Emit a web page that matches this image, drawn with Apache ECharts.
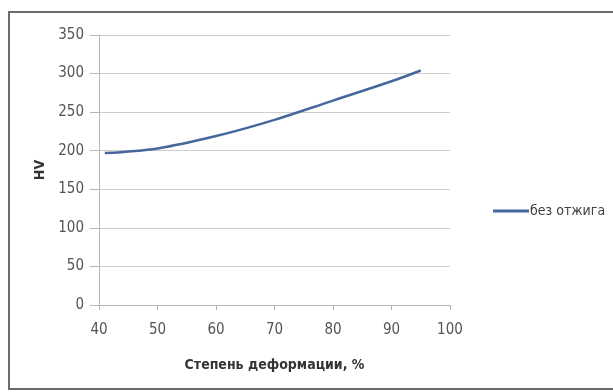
<!DOCTYPE html>
<html>
<head>
<meta charset="utf-8">
<script src="https://cdn.jsdelivr.net/npm/echarts@6/dist/echarts.min.js"></script>
<style>
  html, body { margin: 0; padding: 0; background: #fff; }
  #chart { width: 613px; height: 392px; }
</style>
</head>
<body>
<div id="chart"></div>
<script>
// Hardness (HV) versus degree of deformation, no annealing
const deformation = [41, 50, 60, 70, 80, 90, 95];
const hardness = [197, 203, 219, 240, 265, 290, 304];
const seriesName = 'без отжига';
const xTitle = 'Степень деформации, %';
const yTitle = 'HV';

const font = '"Liberation Sans Narrow", "DejaVu Sans Condensed", sans-serif';
const chart = echarts.init(document.getElementById('chart'));

chart.setOption({
  backgroundColor: '#fff',
  animation: false,
  graphic: [{
    type: 'rect',
    shape: { x: 9, y: 12, width: 610, height: 377 },
    style: { fill: 'none', stroke: '#6b6b6b', lineWidth: 2 },
    silent: true
  }],
  grid: { left: 99, right: 163, top: 35, bottom: 87 },
  legend: {
    data: [seriesName],
    left: 488, top: 199,
    itemWidth: 36, itemHeight: 3, itemGap: 0,
    icon: 'rect',
    textStyle: { fontFamily: font, fontSize: 14, color: '#404040', padding: [0, 0, 0, -4] }
  },
  xAxis: {
    type: 'value', min: 40, max: 100, interval: 10,
    name: xTitle, nameLocation: 'middle', nameGap: 53,
    nameTextStyle: { fontFamily: font, fontSize: 14, fontWeight: 'bold', color: '#333' },
    axisLine: { show: true, lineStyle: { color: '#b5b5b5', width: 1 } },
    axisTick: { show: true, inside: false, length: 5, lineStyle: { color: '#b5b5b5' } },
    axisLabel: { fontFamily: font, fontSize: 15, color: '#555', margin: 18 },
    splitLine: { show: false }
  },
  yAxis: {
    type: 'value', min: 0, max: 350, interval: 50,
    name: yTitle, nameLocation: 'middle', nameGap: 50, nameRotate: 90,
    nameTextStyle: { fontFamily: font, fontSize: 14, fontWeight: 'bold', color: '#333' },
    axisLine: { show: true, lineStyle: { color: '#b5b5b5', width: 1 } },
    axisTick: { show: true, length: 9, lineStyle: { color: '#b5b5b5' } },
    axisLabel: { fontFamily: font, fontSize: 15, color: '#555', margin: 15 },
    splitLine: { show: true, lineStyle: { color: '#cdcdcd', width: 1 } }
  },
  series: [{
    name: seriesName,
    type: 'line',
    data: deformation.map((x, i) => [x, hardness[i]]),
    smooth: 0.35,
    showSymbol: false,
    lineStyle: { color: '#45689c', width: 2.5 },
    itemStyle: { color: '#45689c' }
  }]
});
</script>
</body>
</html>
